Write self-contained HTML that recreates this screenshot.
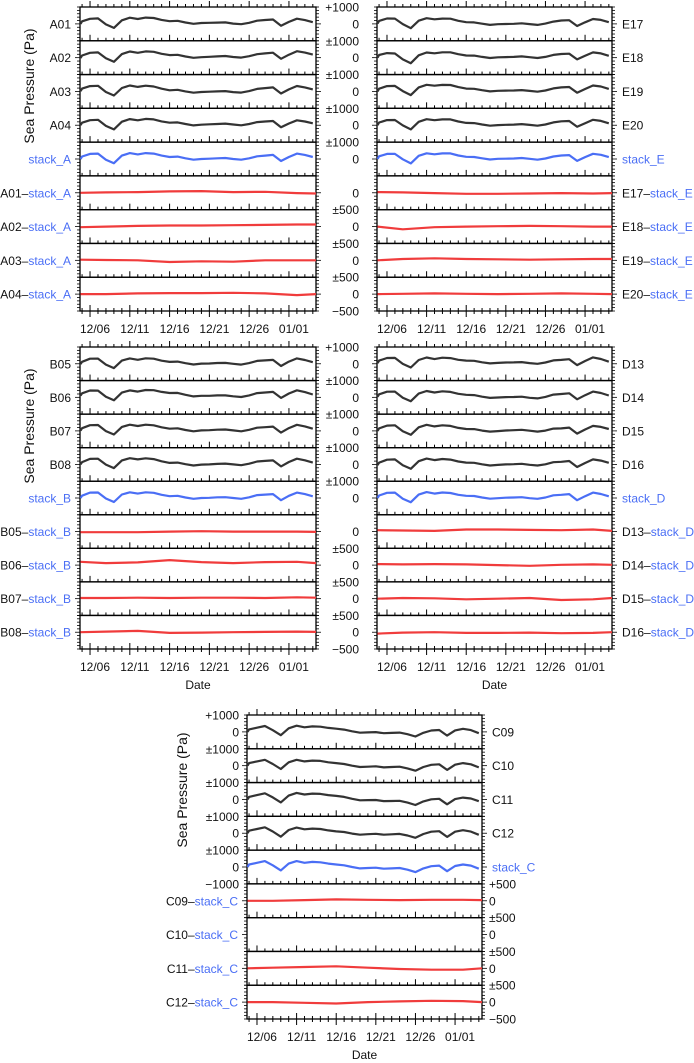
<!DOCTYPE html>
<html><head><meta charset="utf-8"><style>
html,body{margin:0;padding:0;background:#fff}
svg{display:block}
text{font-family:"Liberation Sans",Arial,sans-serif;font-size:12px}
</style></head><body>
<svg id="fig" width="694" height="1063" viewBox="0 0 694 1063" xmlns="http://www.w3.org/2000/svg"></svg>
<script>
// ---- data ----
const days = [-1.2,-1,0,1,2,3,4,5,6,7,8,9,10,11,12,13,14,15,16,17,18,19,20,21,22,23,24,25,26,27,28];
const stackA = [0,150,300,320,-40,-250,200,350,270,350,320,200,120,140,40,-40,0,20,40,60,0,-40,40,160,200,240,-120,120,320,240,120];
const stackE = [0,160,300,300,-20,-260,190,340,280,330,330,210,130,120,40,-30,10,20,30,60,10,-40,30,150,210,230,-110,110,310,250,110];
const stackB = [0,140,320,330,-30,-240,210,340,260,340,310,190,110,130,30,-50,0,10,40,50,0,-50,40,170,200,230,-130,130,320,230,100];
const stackD = [0,150,310,320,-40,-250,200,350,260,330,300,190,130,120,30,-40,-10,20,30,50,-10,-50,30,160,190,230,-130,110,320,240,100];
const stackC = [0,150,250,350,100,-200,200,350,250,300,280,200,150,100,0,-80,-60,-40,-100,-80,-60,-160,-300,-80,50,80,-250,60,150,80,-100];
const diffDays = [-1.2,2,6,10,14,18,22,26,28.4];
const dA01=[0,10,20,40,50,20,30,-10,-20], dA02=[-20,0,20,30,30,40,50,60,60], dA03=[20,10,0,-50,-30,-40,0,0,0], dA04=[0,0,20,30,30,40,20,-30,0];
const dE17=[20,10,-10,-30,-30,-20,-10,-20,-10], dE18=[0,-80,-20,0,10,20,10,0,0], dE19=[0,40,60,40,30,20,30,40,40], dE20=[0,10,20,10,0,10,20,10,0];
const dB05=[-20,-20,-20,0,10,0,0,0,-10], dB06=[100,60,80,150,90,60,90,100,60], dB07=[20,20,30,20,30,30,20,40,30], dB08=[0,20,40,-20,-10,0,10,20,10];
const dD13=[40,30,20,60,60,50,40,60,20], dD14=[30,20,30,20,0,-20,10,20,10], dD15=[0,20,10,-20,0,20,-40,-20,20], dD16=[-40,-10,0,-20,-20,-10,-30,-20,0];
const dC09=[0,0,20,40,30,20,30,30,20], dC10=null, dC11=[0,20,40,60,20,-20,-40,-40,0], dC12=[0,0,-20,-40,0,20,40,30,0];
const dateTickDays = [0,5,10,15,20,25];
const dateTickLabels = ["12/06","12/11","12/16","12/21","12/26","01/01"];
const dayMin = -1.26, dayMax = 28.4;

const NS="http://www.w3.org/2000/svg";
const svg=document.getElementById('fig');
function el(tag,attrs,parent){const e=document.createElementNS(NS,tag);for(const k in attrs)e.setAttribute(k,attrs[k]);(parent||svg).appendChild(e);return e;}
function txt(x,y,s,anchor,color,parent){const t=el('text',{x:x,y:y,'text-anchor':anchor||'start'},parent);t.style.fill=color||'#111';t.textContent=s;return t;}
function interp(xs,ys,x){if(x<=xs[0])return ys[0];for(let i=1;i<xs.length;i++){if(x<=xs[i]){const f=(x-xs[i-1])/(xs[i]-xs[i-1]);return ys[i-1]+f*(ys[i]-ys[i-1]);}}return ys[ys.length-1];}
const BLUE="#4a6ef5", RED="#f03c3c", BLK="#333";

function panel(cfg){
  const {x0,y0,w,h,name,stations,stack,diffs,mode}=cfg;
  const g=el('g',{});
  
  
  const rh=h/9;
  const xs=d=>x0+(d-dayMin)/(dayMax-dayMin)*w;
  const series=[];
  stations.forEach((s,i)=>{
    const d=diffs[i];
    series.push({label:s,vals:stack.map((v,k)=>v+(d?interp(diffDays,d,days[k]):0)),t:days,range:1000,color:BLK,kind:'station'});
  });
  series.push({label:'stack_'+name,vals:stack,t:days,range:1000,color:BLUE,kind:'stack'});
  stations.forEach((s,i)=>{series.push({label:s,vals:diffs[i],t:diffDays,range:500,color:RED,kind:'diff'});});
  series.forEach((sr,r)=>{
    const top=y0+r*rh, mid=top+rh/2;
    const ys=v=>mid - v/sr.range*(rh/2);
    const rg=el('g',{},g);
    
    
    el('rect',{x:x0,y:top,width:w,height:rh,fill:'none',stroke:'#000','stroke-width':1.3},rg);
    for(let d=-1;d<=28;d++){const X=xs(d);if(X<x0||X>x0+w)continue;const major=dateTickDays.includes(d);el('line',{x1:X,x2:X,y1:top+rh,y2:top+rh-(major?6:3),stroke:'#000','stroke-width':1},rg);}
    const step=sr.range===1000?200:100;
    for(let v=-sr.range;v<=sr.range;v+=step){const Y=ys(v);const L=(v===0)?5:3;
      el('line',{x1:x0,x2:x0-L,y1:Y,y2:Y,stroke:'#000','stroke-width':0.8},rg);
      el('line',{x1:x0+w,x2:x0+w+L,y1:Y,y2:Y,stroke:'#000','stroke-width':0.8},rg);}
    if(sr.vals){
      const pts=sr.t.map((t,k)=>xs(t).toFixed(1)+','+ys(sr.vals[k]).toFixed(1)).join(' ');
      const pl=el('polyline',{points:pts,fill:'none',stroke:sr.color,'stroke-width':2.2,'stroke-linejoin':'round'},rg);
      
      
    }
    const nameSide = (mode==='left')?'left':(mode==='right')?'right':(sr.kind==='diff'?'left':'right');
    const lx = nameSide==='left'? x0-9 : x0+w+10;
    const anc = nameSide==='left'?'end':'start';
    const lt=el('text',{x:lx,y:mid+4.5,'text-anchor':anc},rg);
    
    
    lt.style.fill='#111';
    if(sr.kind==='station'){lt.textContent=sr.label;}
    else if(sr.kind==='stack'){lt.textContent=sr.label;lt.style.fill=BLUE;}
    else{const a=el('tspan',{},lt);a.textContent=sr.label+'\u2013';const b=el('tspan',{},lt);b.style.fill=BLUE;b.textContent='stack_'+name;}
  });
  for(let d=-1;d<=28;d++){const X=xs(d);if(X<x0||X>x0+w)continue;const major=dateTickDays.includes(d);
    el('line',{x1:X,x2:X,y1:y0,y2:y0-(major?6:3),stroke:'#000','stroke-width':1},g);
    el('line',{x1:X,x2:X,y1:y0+h,y2:y0+h+(major?6:3),stroke:'#000','stroke-width':1},g);}
  dateTickDays.forEach((d,i)=>{const t=txt(xs(d)+5,y0+h+22,dateTickLabels[i],'middle',null,g);
    
    });
  if(cfg.dateLabel){const t=txt(x0+w/2,y0+h+40,'Date','middle',null,g);
    
    }
  if(cfg.yTitle){const t=el('text',{x:0,y:0,'text-anchor':'middle',transform:`translate(${cfg.yTitle[0]},${cfg.yTitle[1]}) rotate(-90)`,style:'font-size:14px;fill:#111'},g);t.textContent='Sea Pressure (Pa)';
    
    }
  return {rh,g};
}
function yLabelsPair(x,y0,h){
  const rh=h/9;
  const lab=(yy,s)=>{const t=txt(x,yy+4.5,s,'end');
    
    };
  lab(y0,'+1000');
  for(let r=0;r<9;r++)lab(y0+r*rh+rh/2,'0');
  for(let r=1;r<=4;r++)lab(y0+r*rh,'\u00b11000');
  for(let r=6;r<=8;r++)lab(y0+r*rh,'\u00b1500');
  lab(y0+9*rh,'\u2212500');
}
panel({x0:80,y0:7,w:236,h:304,name:'A',stations:['A01','A02','A03','A04'],stack:stackA,diffs:[dA01,dA02,dA03,dA04],mode:'left',yTitle:[34,86]});
panel({x0:377,y0:7,w:235,h:304,name:'E',stations:['E17','E18','E19','E20'],stack:stackE,diffs:[dE17,dE18,dE19,dE20],mode:'right'});
yLabelsPair(359,7,304);
panel({x0:80,y0:347,w:236,h:302,name:'B',stations:['B05','B06','B07','B08'],stack:stackB,diffs:[dB05,dB06,dB07,dB08],mode:'left',dateLabel:true,yTitle:[34,426]});
panel({x0:377,y0:347,w:235,h:302,name:'D',stations:['D13','D14','D15','D16'],stack:stackD,diffs:[dD13,dD14,dD15,dD16],mode:'right',dateLabel:true});
yLabelsPair(359,347,302);
panel({x0:247,y0:715,w:235,h:304,name:'C',stations:['C09','C10','C11','C12'],stack:stackC,diffs:[dC09,dC10,dC11,dC12],mode:'mixed',dateLabel:true,yTitle:[187,790]});
(function(){const y0=715,rh=304/9;
  const L=(yy,s)=>{const t=txt(239,yy+4.5,s,'end');
    
    };
  const R=(yy,s)=>{const t=txt(489,yy+4.5,s,'start');
    
    };
  L(y0,'+1000');for(let r=0;r<5;r++)L(y0+r*rh+rh/2,'0');for(let r=1;r<=4;r++)L(y0+r*rh,'\u00b11000');L(y0+5*rh,'\u22121000');
  R(y0+5*rh,'+500');for(let r=5;r<9;r++)R(y0+r*rh+rh/2,'0');for(let r=6;r<=8;r++)R(y0+r*rh,'\u00b1500');R(y0+9*rh,'\u2212500');
})();
</script>
</body></html>
